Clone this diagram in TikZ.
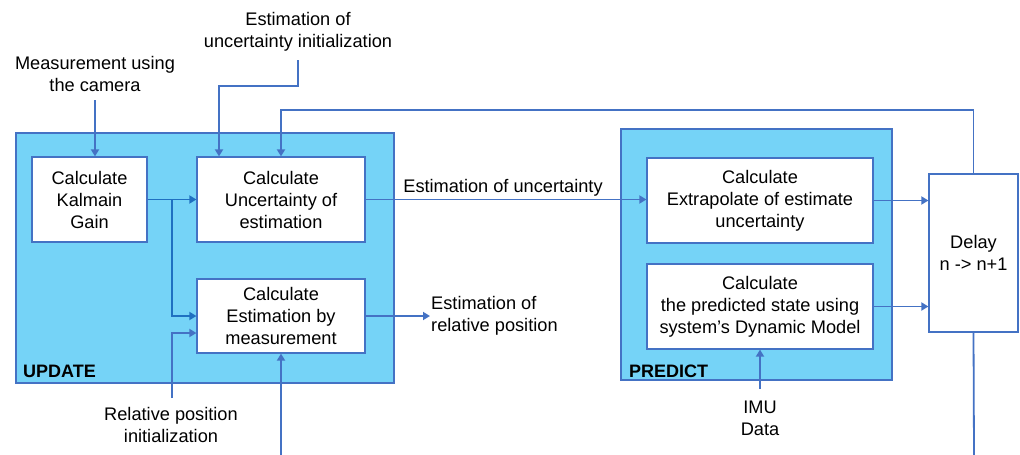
\documentclass[tikz,border=0pt]{standalone}
\usepackage{fontspec}
\setmainfont{Liberation Sans}
\usetikzlibrary{arrows.meta,calc}
\definecolor{lb}{HTML}{75D3F7}
\definecolor{ln}{HTML}{4472C4}
\definecolor{dk}{HTML}{1F70C1}
\tikzset{
  grp/.style={draw=ln,fill=lb,line width=1.5pt,minimum width=#1},
  blk/.style={draw=ln,fill=white,line width=1.2pt,align=center,inner sep=2pt},
  arr/.style={draw=ln,line width=1.8pt,-{Triangle[length=7pt,width=8pt]}},
  ln/.style={draw=ln,line width=1.8pt},
  lbl/.style={align=center,inner sep=1pt},
  tag/.style={anchor=base west,inner sep=0pt,font=\fontsize{18}{22}\selectfont\bfseries},
  every node/.append style={font=\fontsize{18.2}{22}\selectfont}
}
\begin{document}
\begin{tikzpicture}[x=1pt,y=-1pt]
\useasboundingbox (0,0) rectangle (1020,455);
% groups
\node[grp=378pt,minimum height=250pt] (upd) at (205,258) {};
\node[grp=271pt,minimum height=251pt] (prd) at (756.5,254.5) {};
\node[tag] (updl) at (23,377) {UPDATE};
\node[tag] (prdl) at (629,377) {PREDICT};
% blocks
\node[blk,minimum width=115pt,minimum height=85pt] (kal) at (89.5,199.5) {Calculate\\Kalmain\\Gain};
\node[blk,minimum width=168pt,minimum height=85pt] (unc) at (281,199.5) {Calculate\\Uncertainty of\\estimation};
\node[blk,minimum width=168pt,minimum height=74pt] (est) at (281,316) {Calculate\\Estimation by\\measurement};
\node[blk,minimum width=226pt,minimum height=85pt] (ext) at (760,200.5) {Calculate\\Extrapolate of estimate\\uncertainty};
\node[blk,minimum width=226pt,minimum height=85pt] (pred) at (760,306.5) {Calculate\\the predicted state using\\system’s Dynamic Model};
\node[blk,minimum width=89pt,minimum height=158pt] (delay) at (973.5,253) {Delay\\n -> n+1};
% labels
\node[lbl] (meas) at (95,74) {Measurement using\\the camera};
\node[lbl] (eui) at (298,32) {Estimation of\\uncertainty initialization};
\node[lbl] (rpi) at (171,425) {Relative position\\initialization};
\node[lbl] (imu) at (760,418) {IMU\\Data};
\node[lbl,anchor=south] (eu) at (503,197) {Estimation of uncertainty};
\node[lbl,anchor=west,align=left] (erp) at (430,316) {Estimation of\\relative position};
% coordinates
\coordinate (j) at (172,200);
\coordinate (m0) at (95,100);
\coordinate (e0) at (298,60);
\coordinate (e1) at (298,86);
\coordinate (e2) at (219,86);
\coordinate (fb) at (281,110);
\coordinate (r0) at (172,398);
\coordinate (r1) at (172,333);
\coordinate (b1) at (281,455);
\coordinate (b2) at (974,455);
\coordinate (i0) at (760,389);
% connectors
\draw[arr] (m0) -- (m0 |- kal.north);
\draw[arr] (e0) -- (e1) -- (e2) -- (e2 |- unc.north);
\draw[arr,draw=dk] (kal.east) -- (unc.west);
\draw[arr,draw=dk] (j) |- (est.west);
\draw[arr] (r0) -- (r1) -- (r1 -| est.west);
\draw[arr] (b1) -- (est.south);
\draw[arr] (est.east) -- (erp.west);
\draw[arr] (unc.east) -- (unc.east -| ext.west);
\draw[arr] (ext.east) -- (ext.east -| delay.west);
\draw[arr] (pred.east) -- (pred.east -| delay.west);
\draw[arr] (i0) -- (pred.south);
\draw[arr] (delay.north) |- (fb) -- (fb |- unc.north);
\draw[ln] (delay.south) -- (b2);
\end{tikzpicture}
\end{document}
